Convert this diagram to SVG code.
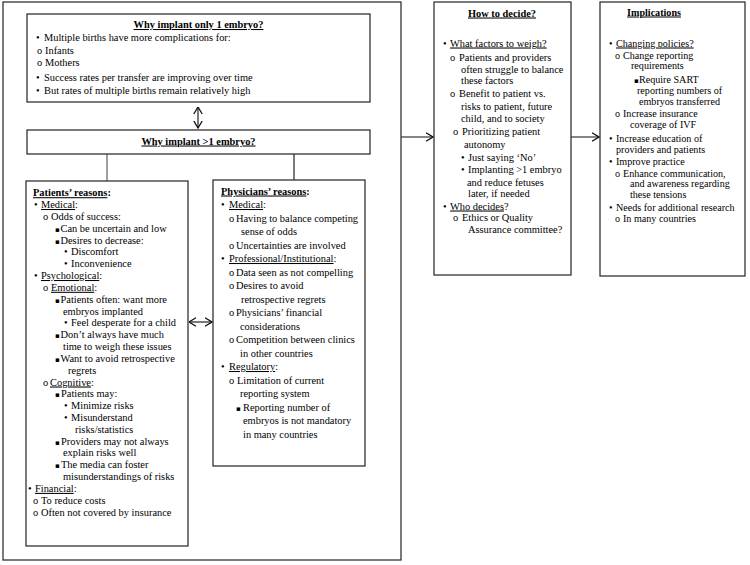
<svg xmlns="http://www.w3.org/2000/svg" width="750" height="565" viewBox="0 0 750 565">
<style>
text{font-family:'Liberation Serif','Times New Roman',serif;font-size:10.4px;fill:#000}
.t{font-weight:bold}
.u{text-decoration:underline}
.sq{font-family:'DejaVu Sans',sans-serif;font-size:7px}
.box{fill:#fff;stroke:#333;stroke-width:1.3}
.ln{stroke:#222;stroke-width:1.2;fill:none}
#implications text{font-size:10.1px}
#implications text.sq, #implications tspan.sq{font-size:7px}
</style>
<defs>
<marker id="ah" viewBox="0 0 8 10" refX="7.5" refY="5" markerWidth="8" markerHeight="10" markerUnits="userSpaceOnUse" orient="auto-start-reverse">
<path d="M0.5,0.8 L7.5,5 L0.5,9.2" fill="none" stroke="#111" stroke-width="1.3"/>
</marker>
</defs>
<rect width="750" height="565" fill="#fff"/>
<g id="outer"><rect class="box" x="3" y="2" width="398" height="558"/></g>

<g id="connectors">
<line class="ln" x1="198" y1="107" x2="198" y2="128" marker-start="url(#ah)" marker-end="url(#ah)"/>
<line x1="107" y1="154" x2="107" y2="181" stroke="#888" stroke-width="1.6"/>
<line class="ln" x1="294" y1="154" x2="294" y2="180"/>
<line class="ln" x1="189" y1="322" x2="212" y2="322" marker-start="url(#ah)" marker-end="url(#ah)"/>
<line x1="401" y1="137" x2="433" y2="137" stroke="#444" stroke-width="1.3" marker-end="url(#ah)"/>
<line x1="571" y1="137" x2="599" y2="137" stroke="#444" stroke-width="1.3" marker-end="url(#ah)"/>
</g>

<g id="only1">
<rect class="box" x="27" y="14" width="343" height="88"/>
<text class="t u" x="198.5" y="28" text-anchor="middle">Why implant only 1 embryo?</text>
<text y="41"><tspan x="36">•</tspan><tspan x="44">Multiple births have more complications for:</tspan></text>
<text y="53.5"><tspan x="37">o</tspan><tspan x="45">Infants</tspan></text>
<text y="65.5"><tspan x="37">o</tspan><tspan x="45">Mothers</tspan></text>
<text y="80.5"><tspan x="36">•</tspan><tspan x="44">Success rates per transfer are improving over time</tspan></text>
<text y="94"><tspan x="36">•</tspan><tspan x="44">But rates of multiple births remain relatively high</tspan></text>
</g>

<g id="more1">
<rect class="box" x="27" y="130" width="343" height="24"/>
<text class="t u" x="198.5" y="144.5" text-anchor="middle">Why implant &gt;1 embryo?</text>
</g>

<g id="patients">
<rect class="box" x="26" y="181" width="162" height="365"/>
<text x="33" y="196.2" class="t"><tspan class="u">Patients’ reasons</tspan>:</text>
<text y="208"><tspan x="34">•</tspan><tspan x="41" class="u">Medical</tspan><tspan>:</tspan></text>
<text y="219.9"><tspan x="43">o</tspan><tspan x="51">Odds of success:</tspan></text>
<text y="231.7"><tspan x="55" class="sq">▪</tspan><tspan x="60.5">Can be uncertain and low</tspan></text>
<text y="243.5"><tspan x="55" class="sq">▪</tspan><tspan x="60.5">Desires to decrease:</tspan></text>
<text y="255.4"><tspan x="64">•</tspan><tspan x="71">Discomfort</tspan></text>
<text y="267.2"><tspan x="64">•</tspan><tspan x="71">Inconvenience</tspan></text>
<text y="279"><tspan x="34">•</tspan><tspan x="41" class="u">Psychological</tspan><tspan>:</tspan></text>
<text y="290.8"><tspan x="43">o</tspan><tspan x="51" class="u">Emotional</tspan><tspan>:</tspan></text>
<text y="302.7"><tspan x="55" class="sq">▪</tspan><tspan x="60.5">Patients often: want more</tspan></text>
<text x="63" y="314.5">embryos implanted</text>
<text y="326.3"><tspan x="64">•</tspan><tspan x="71">Feel desperate for a child</tspan></text>
<text y="338.2"><tspan x="55" class="sq">▪</tspan><tspan x="60.5">Don’t always have much</tspan></text>
<text x="63" y="350">time to weigh these issues</text>
<text y="361.8"><tspan x="55" class="sq">▪</tspan><tspan x="60.5">Want to avoid retrospective</tspan></text>
<text x="68" y="373.6">regrets</text>
<text y="385.5"><tspan x="43">o</tspan><tspan x="50" class="u">Cognitive</tspan><tspan>:</tspan></text>
<text y="397.3"><tspan x="55" class="sq">▪</tspan><tspan x="61">Patients may:</tspan></text>
<text y="409.1"><tspan x="64">•</tspan><tspan x="71">Minimize risks</tspan></text>
<text y="421"><tspan x="64">•</tspan><tspan x="71">Misunderstand</tspan></text>
<text x="75" y="432.8">risks/statistics</text>
<text y="444.6"><tspan x="55" class="sq">▪</tspan><tspan x="61">Providers may not always</tspan></text>
<text x="63" y="456.4">explain risks well</text>
<text y="468.3"><tspan x="55" class="sq">▪</tspan><tspan x="61">The media can foster</tspan></text>
<text x="63" y="480.1">misunderstandings of risks</text>
<text y="491.9"><tspan x="28">•</tspan><tspan x="35" class="u">Financial</tspan><tspan>:</tspan></text>
<text y="503.8"><tspan x="33">o</tspan><tspan x="41">To reduce costs</tspan></text>
<text y="515.6"><tspan x="33">o</tspan><tspan x="41">Often not covered by insurance</tspan></text>
</g>

<g id="physicians">
<rect class="box" x="213" y="180" width="152" height="286"/>
<text x="221" y="194.5" class="t"><tspan class="u">Physicians’ reasons</tspan>:</text>
<text y="208"><tspan x="221">•</tspan><tspan x="229" class="u">Medical</tspan><tspan>:</tspan></text>
<text y="221.5"><tspan x="229">o</tspan><tspan x="236">Having to balance competing</tspan></text>
<text x="241" y="235">sense of odds</text>
<text y="248.5"><tspan x="229">o</tspan><tspan x="236">Uncertainties are involved</tspan></text>
<text y="262"><tspan x="221">•</tspan><tspan x="229" class="u">Professional/Institutional</tspan><tspan>:</tspan></text>
<text y="275.5"><tspan x="229">o</tspan><tspan x="236">Data seen as not compelling</tspan></text>
<text y="289"><tspan x="229">o</tspan><tspan x="236">Desires to avoid</tspan></text>
<text x="241" y="302.5">retrospective regrets</text>
<text y="316"><tspan x="229">o</tspan><tspan x="236">Physicians’ financial</tspan></text>
<text x="240" y="329.5">considerations</text>
<text y="343"><tspan x="229">o</tspan><tspan x="236">Competition between clinics</tspan></text>
<text x="240" y="356.5">in other countries</text>
<text y="370"><tspan x="221">•</tspan><tspan x="229" class="u">Regulatory</tspan><tspan>:</tspan></text>
<text y="383.5"><tspan x="229">o</tspan><tspan x="237">Limitation of current</tspan></text>
<text x="240" y="397">reporting system</text>
<text y="410.5"><tspan x="236" class="sq">▪</tspan><tspan x="243">Reporting number of</tspan></text>
<text x="243" y="424">embryos is not mandatory</text>
<text x="243" y="437.5">in many countries</text>
</g>

<g id="decide">
<rect class="box" x="434" y="2" width="137" height="273"/>
<text class="t u" x="502" y="16.5" text-anchor="middle">How to decide?</text>
<text y="46.5"><tspan x="443">•</tspan><tspan x="450" class="u">What factors to weigh?</tspan></text>
<text y="60.5"><tspan x="450">o</tspan><tspan x="459">Patients and providers</tspan></text>
<text x="461" y="72.5">often struggle to balance</text>
<text x="461" y="83.5">these factors</text>
<text y="96.5"><tspan x="450">o</tspan><tspan x="459">Benefit to patient vs.</tspan></text>
<text x="461" y="109.5">risks to patient, future</text>
<text x="461" y="121.5">child, and to society</text>
<text y="134.5"><tspan x="453">o</tspan><tspan x="462">Prioritizing patient</tspan></text>
<text x="464" y="147.5">autonomy</text>
<text y="160.5"><tspan x="461">•</tspan><tspan x="468">Just saying ‘No’</tspan></text>
<text y="172.5"><tspan x="461">•</tspan><tspan x="468">Implanting &gt;1 embryo</tspan></text>
<text x="467" y="185.5">and reduce fetuses</text>
<text x="468" y="196.5">later, if needed</text>
<text y="209.5"><tspan x="443">•</tspan><tspan x="450" class="u">Who decides</tspan><tspan>?</tspan></text>
<text y="220.5"><tspan x="453">o</tspan><tspan x="462">Ethics or Quality</tspan></text>
<text x="468" y="232.5">Assurance committee?</text>
</g>

<g id="implications">
<rect class="box" x="600" y="2" width="145" height="274"/>
<text class="t u" x="654" y="15.5" text-anchor="middle">Implications</text>
<text y="46.5"><tspan x="609">•</tspan><tspan x="616" class="u">Changing policies?</tspan></text>
<text y="58.5"><tspan x="615">o</tspan><tspan x="623">Change reporting</tspan></text>
<text x="631" y="68.5">requirements</text>
<text y="82.5"><tspan x="634" class="sq">▪</tspan><tspan x="639">Require SART</tspan></text>
<text x="637" y="93.5">reporting numbers of</text>
<text x="639" y="104.5">embryos transferred</text>
<text y="116.5"><tspan x="615">o</tspan><tspan x="623">Increase insurance</tspan></text>
<text x="630" y="127.5">coverage of IVF</text>
<text y="141.5"><tspan x="609">•</tspan><tspan x="616">Increase education of</tspan></text>
<text x="616" y="152.5">providers and patients</text>
<text y="164.5"><tspan x="609">•</tspan><tspan x="616">Improve practice</tspan></text>
<text y="176.5"><tspan x="615">o</tspan><tspan x="623">Enhance communication,</tspan></text>
<text x="630" y="186.5">and awareness regarding</text>
<text x="630" y="197.5">these tensions</text>
<text y="210.5"><tspan x="609">•</tspan><tspan x="616">Needs for additional research</tspan></text>
<text y="221.5"><tspan x="615">o</tspan><tspan x="623">In many countries</tspan></text>
</g>
</svg>
